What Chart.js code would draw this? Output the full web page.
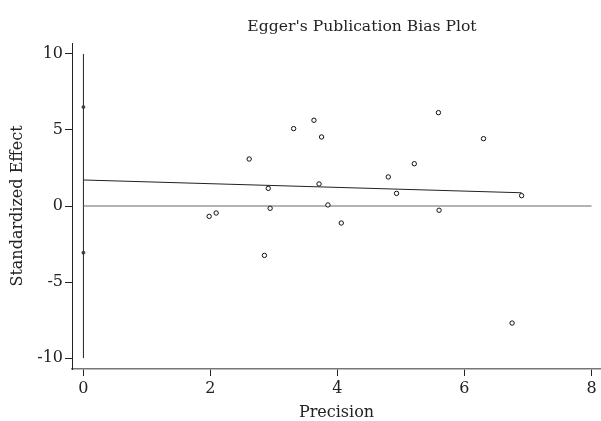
<!DOCTYPE html>
<html>
<head>
<meta charset="utf-8">
<script src="https://cdn.jsdelivr.net/npm/chart.js@4/dist/chart.umd.min.js"></script>
<style>
  html, body { margin: 0; padding: 0; background: #fff; }
  #wrap { width: 601px; height: 421px; }
</style>
</head>
<body>
<div id="wrap"><canvas id="myChart"></canvas></div>
<script>
// ---------------------- data ---------------------
var precision = [3.31, 2.61, 2.91, 1.98, 2.09, 2.94, 3.63, 3.75, 5.59, 6.30,
                 5.21, 4.80, 3.71, 4.93, 6.90, 3.85, 5.60, 2.85, 4.06, 6.75];
var stdEffect = [5.09, 3.09, 1.16, -0.68, -0.46, -0.15, 5.64, 4.54, 6.14, 4.43,
                 2.78, 1.91, 1.45, 0.83, 0.68, 0.07, -0.28, -3.25, -1.12, -7.70];

// regression line (Egger) and the intercept confidence interval
var regX = [0, 6.9];
var regY = [1.71, 0.87];
var ciY = [6.51, -3.07];
var zeroX = [0, 8];
var vertY = [-10, 10];

var xTicks = [0, 2, 4, 6, 8];
var yTicks = [-10, -5, 0, 5, 10];

var titleText = "Egger's Publication Bias Plot";
var xTitle = "Precision";
var yTitle = "Standardized Effect";

var fontFam = "'DejaVu Serif', serif";

function pts(xs, ys) {
  var out = [];
  for (let i = 0; i < xs.length; ++i) out.push({x: xs[i], y: ys[i]});
  return out;
}

// title is drawn by hand because it sits right of the canvas centre
var titlePlugin = {
  id: 'eggerTitle',
  afterDraw: function(chart) {
    var ctx = chart.ctx;
    ctx.save();
    ctx.font = "15.6px " + fontFam;
    ctx.fillStyle = "#222";
    ctx.textAlign = "center";
    ctx.textBaseline = "middle";
    ctx.fillText(titleText, 362, 27);
    ctx.restore();
  }
};

new Chart("myChart", {
  type: "scatter",
  data: {
    datasets: [
      {
        data: pts(precision, stdEffect),
        pointStyle: "circle",
        pointRadius: 2.2,
        pointBorderWidth: 1,
        pointBorderColor: "#111",
        pointBackgroundColor: "#fff",
        order: 0
      },
      {
        data: pts(regX, regY),
        showLine: true,
        borderColor: "#222",
        borderWidth: 1,
        pointRadius: 0,
        order: 2
      },
      {
        data: pts(zeroX, [0, 0]),
        showLine: true,
        borderColor: "#666",
        borderWidth: 1,
        pointRadius: 0,
        order: 3
      },
      {
        data: pts([0, 0], vertY),
        showLine: true,
        borderColor: "#222",
        borderWidth: 1,
        pointRadius: 0,
        order: 3
      },
      {
        data: pts([0, 0], ciY),
        pointRadius: 1.6,
        pointBorderWidth: 0.5,
        pointBorderColor: "#222",
        pointBackgroundColor: "#444",
        order: 1
      }
    ]
  },
  plugins: [titlePlugin],
  options: {
    responsive: true,
    maintainAspectRatio: false,
    animation: false,
    layout: { autoPadding: false, padding: { top: 43, right: 0, bottom: 0, left: 0 } },
    plugins: {
      legend: { display: false },
      title: { display: false },
      tooltip: { enabled: false }
    },
    scales: {
      x: {
        type: "linear",
        min: -0.18,
        max: 8.15,
        afterBuildTicks: function(scale) {
          scale.ticks = xTicks.map(function(v) { return {value: v}; });
        },
        afterFit: function(scale) {
          scale.height = 52;
          scale.paddingLeft = 0;
          scale.paddingRight = 0;
        },
        grid: { drawOnChartArea: false, drawTicks: true, tickLength: 7, color: "#222", tickWidth: 1 },
        border: { display: true, color: "#777", width: 1.5 },
        ticks: { padding: 3, color: "#222", font: { family: fontFam, size: 16 }, maxRotation: 0 },
        title: { display: true, text: xTitle, color: "#222", font: { family: fontFam, size: 16, lineHeight: 1.0 }, padding: { top: 0, bottom: 0 } }
      },
      y: {
        type: "linear",
        min: -10.72,
        max: 10.72,
        afterBuildTicks: function(scale) {
          scale.ticks = yTicks.map(function(v) { return {value: v}; });
        },
        afterFit: function(scale) {
          scale.width = 72;
          scale.paddingTop = 0;
          scale.paddingBottom = 0;
        },
        grid: { drawOnChartArea: false, drawTicks: true, tickLength: 7, color: "#222", tickWidth: 1 },
        border: { display: true, color: "#222", width: 1 },
        ticks: { padding: 2, color: "#222", font: { family: fontFam, size: 16 } },
        title: { display: true, text: yTitle, color: "#222", font: { family: fontFam, size: 16 }, padding: { top: 8, bottom: 0 } }
      }
    }
  }
});
</script>
</body>
</html>
